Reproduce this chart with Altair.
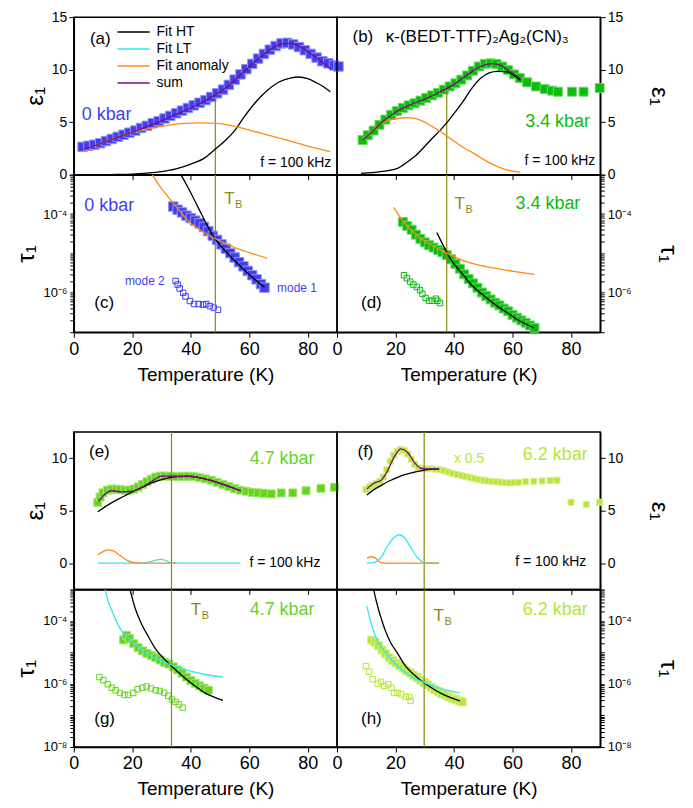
import altair as alt
import pandas as pd

FONT = "Liberation Sans"
W, H = 264, 158

# ---------------- colours ----------------
C0, C0E = "#3f3ff0", "#9494f7"      # 0 kbar
C34, C34E = "#0cbc0c", "#66d866"    # 3.4 kbar
C47, C47E = "#66d41e", "#a6e674"    # 4.7 kbar
C62, C62E = "#b6e63a", "#d6f08e"    # 6.2 kbar
OLIVE = "#8a8a10"
CURVE_NAMES = ["Fit HT", "Fit LT", "Fit anomaly", "sum"]
CURVE_COLORS = ["#000000", "#2ee8f4", "#ff8a14", "#7a0a7a"]

# ---------------- data: (a) eps, 0 kbar ----------------
a_T = [3, 5, 7, 9, 11, 13, 15, 17, 19, 21, 23, 25, 27, 29, 31, 33, 35, 37, 39, 41, 43, 45, 47, 49,
       51, 53, 55, 57, 59, 61, 63, 65, 67, 69, 71, 73, 75, 77, 79, 81, 83, 85, 87, 89, 90.5]
a_eps = [2.65, 2.75, 2.85, 3.0, 3.2, 3.4, 3.6, 3.8, 4.0, 4.2, 4.45, 4.65, 4.9, 5.1, 5.35, 5.6, 5.85,
         6.1, 6.35, 6.6, 6.85, 7.1, 7.4, 7.75, 8.1, 8.55, 9.05, 9.55, 10.05, 10.55, 11.05, 11.5,
         11.9, 12.25, 12.5, 12.55, 12.4, 12.15, 11.85, 11.5, 11.15, 10.8, 10.6, 10.4, 10.3]
a_sum_T = [3.4, 8, 13, 18, 23, 28, 33, 38, 43, 48, 53, 58, 63, 68, 71, 74, 78, 82, 85, 87.7]
a_sum = [2.4, 2.85, 3.35, 3.85, 4.35, 4.9, 5.5, 6.1, 6.75, 7.55, 8.5, 9.75, 11.0, 12.05, 12.45,
         12.5, 12.1, 11.3, 10.7, 10.1]
a_ht_T = [3, 10, 15, 20, 25, 30, 35, 40, 45, 48, 52, 55, 58, 62, 66, 70, 74, 77, 80, 83, 85.5, 87.7]
a_ht = [0, 0, 0.02, 0.06, 0.15, 0.3, 0.55, 1.0, 1.65, 2.35, 3.3, 4.2, 5.4, 6.85, 8.0, 8.8, 9.2,
        9.3, 9.15, 8.75, 8.35, 7.9]
a_an_T = [3.4, 9.5, 15, 21, 27, 32, 38, 43.6, 49, 55, 60, 66.4, 72, 77.7, 83, 87.7]
a_an = [2.34, 3.0, 3.55, 4.1, 4.45, 4.7, 4.88, 4.94, 4.88, 4.6, 4.25, 3.77, 3.35, 2.9, 2.5, 2.2]

# ---------------- (c) tau, 0 kbar ----------------
c_T = [34, 35.5, 37, 38.5, 40, 41.5, 43, 44.5, 46, 47.5, 49, 50.5, 52, 53.5, 55, 56.5, 58, 59.5,
       61, 62.5, 64, 65.2]
c_tau = [1.55e-4, 1.29e-4, 1.10e-4, 9.1e-5, 7.9e-5, 6.8e-5, 5.8e-5, 4.7e-5, 3.7e-5, 2.8e-5,
         2.2e-5, 1.7e-5, 1.32e-5, 1.02e-5, 7.9e-6, 6.0e-6, 4.7e-6, 3.6e-6, 2.8e-6, 2.2e-6,
         1.66e-6, 1.35e-6]
c2_T = [34.8, 35.5, 36.2, 37.4, 38.2, 39.7, 41.1, 42.7, 44.2, 45.3, 46.5, 47.8, 49.3]
c2_tau = [2.0e-6, 1.62e-6, 1.29e-6, 1.0e-6, 8.1e-7, 6.2e-7, 5.2e-7, 5.2e-7, 5.0e-7, 5.2e-7,
          4.6e-7, 4.2e-7, 3.7e-7]
c_ht_T = [36.6, 39, 42.5, 45, 48.2, 51, 55, 58, 61, 63, 65.2]
c_ht = [1.0e-3, 4.8e-4, 1.48e-4, 6.3e-5, 2.4e-5, 1.35e-5, 6.5e-6, 4.0e-6, 2.5e-6, 1.86e-6, 1.38e-6]
c_an_T = [26.8, 29, 32.3, 36, 39, 43, 48.2, 52, 55, 60, 66.1]
c_an = [1.0e-3, 5.6e-4, 2.7e-4, 1.26e-4, 6.8e-5, 4.0e-5, 2.4e-5, 1.78e-5, 1.41e-5, 1.05e-5, 7.6e-6]

# ---------------- (b) eps, 3.4 kbar ----------------
b_T = [8.75, 10.5, 12.5, 14.5, 16.5, 18.5, 20.5, 22.5, 24.5, 26.5, 28.5, 30.5, 32.5, 34.5, 36.5,
       38.5, 40.5, 42.5, 44.5, 46.5, 48.5, 50.5, 52.5, 54.5, 56.5, 58.5, 60.5, 62.5, 65, 68, 71,
       73.5, 75.5, 80.3, 84.3, 89.8]
b_eps = [3.3, 3.75, 4.2, 4.75, 5.25, 5.7, 6.05, 6.35, 6.6, 6.8, 7.05, 7.3, 7.55, 7.8, 8.1, 8.4,
         8.7, 9.05, 9.45, 9.9, 10.3, 10.55, 10.6, 10.55, 10.3, 9.95, 9.55, 9.2, 8.8, 8.4, 8.15,
         8.0, 7.9, 7.9, 7.9, 8.25]
b_sum_T = [8.75, 12, 15, 20, 25, 30, 35, 40, 45, 49, 53, 56, 59, 62.7]
b_sum = [3.3, 4.1, 4.9, 5.95, 6.65, 7.2, 7.85, 8.6, 9.6, 10.3, 10.57, 10.4, 9.85, 9.15]
b_ht_T = [8.2, 15, 20.7, 24, 26.4, 29, 32, 35, 37.7, 40.5, 43.4, 46, 49, 52, 54.8, 58.2, 60.5, 62.7]
b_ht = [0.13, 0.3, 0.6, 1.2, 1.7, 2.4, 3.3, 4.15, 5.0, 6.0, 7.1, 8.2, 9.15, 9.7, 9.84, 9.78, 9.45, 9.0]
b_an_T = [8.75, 12, 15, 18, 20.7, 23, 25.2, 27.5, 29.8, 32.5, 35.5, 38.5, 41.1, 44, 46.8, 49.5,
          52.5, 55.5, 58.2, 62.7]
b_an = [3.3, 4.2, 4.87, 5.2, 5.35, 5.42, 5.41, 5.3, 5.03, 4.6, 4.08, 3.5, 2.97, 2.45, 2.03, 1.55,
        1.08, 0.7, 0.44, 0.22]

# ---------------- (d) tau, 3.4 kbar ----------------
d_T = [22.5, 24, 25.5, 27, 28.5, 30, 31.5, 33, 34.5, 36, 37.5, 39, 40.5, 42, 43.5, 45, 46.5, 48,
       49.5, 51, 52.5, 54, 55.5, 57, 58.5, 60, 61.5, 63, 64.5, 66, 67.5]
d_tau = [6.3e-5, 5.0e-5, 4.0e-5, 3.0e-5, 2.34e-5, 1.91e-5, 1.62e-5, 1.41e-5, 1.23e-5, 1.07e-5,
         9.1e-6, 7.1e-6, 5.4e-6, 4.1e-6, 2.95e-6, 2.24e-6, 1.74e-6, 1.35e-6, 1.02e-6, 8.3e-7,
         6.8e-7, 5.6e-7, 4.8e-7, 4.0e-7, 3.4e-7, 2.75e-7, 2.34e-7, 2.0e-7, 1.74e-7, 1.48e-7, 1.29e-7]
d2_T = [22.9, 23.9, 25, 26.1, 27.3, 28.4, 29.2, 30.3, 31.5, 32.6, 33.8, 34.3, 35.2]
d2_tau = [2.8e-6, 2.34e-6, 1.91e-6, 1.62e-6, 1.41e-6, 1.17e-6, 9.5e-7, 7.4e-7, 6.3e-7, 6.3e-7,
          7.1e-7, 6.3e-7, 5.5e-7]
d_ht_T = [34.1, 36, 37.7, 40, 43.4, 46, 49, 52, 54.8, 58, 61.6, 64.5, 67.5]
d_ht = [3.4e-5, 1.78e-5, 1.0e-5, 5.4e-6, 2.7e-6, 1.58e-6, 1.0e-6, 6.6e-7, 4.6e-7, 3.2e-7, 2.1e-7,
        1.62e-7, 1.29e-7]
d_an_T = [19.3, 22.9, 27.5, 32, 37.7, 43.4, 49, 54.8, 61.6, 67.5]
d_an = [1.48e-4, 6.2e-5, 2.8e-5, 1.66e-5, 1.0e-5, 6.5e-6, 5.0e-6, 4.1e-6, 3.4e-6, 2.95e-6]

# ---------------- (e) eps, 4.7 kbar ----------------
e_T = [8.2, 9, 10, 11.5, 13, 14.5, 16, 17.5, 19, 20.5, 22, 23.5, 25, 26.5, 28, 29.5, 31, 33, 35,
       37, 39, 41, 43, 45, 47, 49, 51, 53, 55, 57, 59, 61, 63, 65, 67.5, 70.9, 74.9, 79.4, 84.5, 89.1]
e_eps = [5.8, 6.3, 6.7, 6.95, 7.05, 7.05, 7.0, 6.95, 6.95, 7.05, 7.25, 7.5, 7.75, 8.0, 8.2, 8.28,
         8.3, 8.28, 8.25, 8.25, 8.28, 8.25, 8.15, 8.03, 7.9, 7.7, 7.5, 7.3, 7.1, 6.95, 6.85, 6.75,
         6.7, 6.65, 6.6, 6.69, 6.69, 6.9, 7.13, 7.23]
e_sum_T = [8.4, 10.7, 13, 16.4, 19.8, 23.2, 26.6, 30, 33.4, 39.1, 44.8, 50.5, 57]
e_sum = [5.86, 6.59, 6.9, 6.8, 6.85, 7.23, 7.77, 8.3, 8.28, 8.28, 8.03, 7.55, 6.9]
e_ht_T = [8.2, 12, 15.2, 18, 20.9, 24, 26.6, 30, 33.4, 36, 39.1, 44.8, 50.5, 57]
e_ht = [4.9, 5.6, 6.1, 6.5, 6.9, 7.3, 7.64, 7.95, 8.18, 8.25, 8.28, 8.03, 7.55, 6.9]
e_an_T = [8.2, 10, 11.6, 13.5, 15.2, 17, 18.6, 20.9, 25, 30, 35.1]
e_an = [0.8, 1.1, 1.27, 1.18, 0.86, 0.5, 0.22, 0.03, 0, 0, 0]
e_lt_T = [8.2, 15, 20, 24.3, 26, 28, 29.8, 31.5, 33.4, 40, 50, 57]
e_lt = [0, 0, 0, 0.02, 0.12, 0.3, 0.37, 0.25, 0.03, 0, 0, 0]

# ---------------- (f) eps, 6.2 kbar ----------------
f_T = [9.9, 11, 12.2, 13.4, 14.6, 15.8, 17, 18.2, 19.4, 20.6, 21.8, 23, 24.2, 25.4, 26.6, 27.8, 29,
       30.5, 32, 33.5, 35, 36.5, 38, 39.5, 41, 42.5, 44, 45.5, 47, 48.5, 50, 51.5, 53, 54.5, 56,
       57.5, 59, 60.5, 62, 64.5, 67.3, 70.1, 72.9, 75.2, 80, 85.2, 89.8]
f_eps = [7.0, 7.25, 7.45, 7.6, 7.8, 8.2, 8.9, 9.7, 10.3, 10.65, 10.82, 10.75, 10.4, 9.9, 9.4, 9.1,
         9.0, 8.98, 8.98, 8.95, 8.9, 8.8, 8.68, 8.55, 8.45, 8.35, 8.25, 8.15, 8.05, 7.97, 7.9, 7.83,
         7.78, 7.75, 7.72, 7.68, 7.64, 7.66, 7.7, 7.77, 7.8, 7.83, 7.87, 7.9, 5.8, 5.6, 5.8]
f_sum_T = [10.2, 12.7, 15, 17.3, 19.5, 21.8, 24.1, 26.4, 28.6, 30.9, 34.9]
f_sum = [7.07, 7.64, 7.87, 8.82, 10.1, 10.89, 10.57, 9.62, 9.04, 8.98, 8.98]
f_ht_T = [10.2, 12.5, 15, 18, 20.7, 23.5, 26.4, 28.5, 30.9, 33, 34.9]
f_ht = [6.5, 6.98, 7.39, 7.85, 8.18, 8.45, 8.66, 8.8, 8.92, 8.96, 8.98]
f_lt_T = [10.2, 12.7, 15, 17.3, 19.5, 21.3, 23, 25.2, 27.5, 29.8, 34.9]
f_lt = [0, 0.06, 0.54, 1.66, 2.45, 2.71, 2.45, 1.5, 0.54, 0.06, 0]
f_an_T = [10.2, 11.8, 13.3, 15, 16.7, 34.9]
f_an = [0.48, 0.64, 0.45, 0.06, 0, 0]

# ---------------- (g) tau, 4.7 kbar ----------------
g_T = [17, 18, 19, 20.5, 22, 23.5, 25, 26.5, 28, 29.5, 31, 32.5, 34, 35.5, 37, 38.5, 40, 41.5, 43,
       44.5, 46]
g_tau = [2.5e-5, 3.5e-5, 2.8e-5, 1.9e-5, 1.41e-5, 1.12e-5, 9.3e-6, 7.9e-6, 6.8e-6, 5.8e-6, 4.9e-6,
         4.3e-6, 3.5e-6, 2.8e-6, 2.2e-6, 1.66e-6, 1.29e-6, 1.05e-6, 8.7e-7, 7.4e-7, 6.3e-7]
g2_T = [8.75, 10.1, 11.6, 13, 14.3, 15.8, 17.3, 18.6, 20.3, 21.8, 23.4, 24.9, 26.4, 28, 29.4, 30.9,
        32.3, 33.6, 34.8, 35.9, 37.2]
g2_tau = [1.66e-6, 1.32e-6, 9.8e-7, 7.6e-7, 6.3e-7, 5.2e-7, 4.5e-7, 4.5e-7, 5.2e-7, 6.8e-7, 7.6e-7,
          8.3e-7, 7.2e-7, 6.3e-7, 6.0e-7, 5.2e-7, 4.2e-7, 3.2e-7, 2.7e-7, 2.24e-7, 1.78e-7]
g_ht_T = [19.2, 21, 23.2, 25.5, 27.7, 30.5, 33.4, 36, 39.1, 42, 44.8, 48, 51]
g_ht = [1.0e-3, 2.5e-4, 7.9e-5, 3.2e-5, 1.41e-5, 6.8e-6, 3.7e-6, 2.24e-6, 1.26e-6, 7.9e-7, 5.2e-7,
        3.8e-7, 3.0e-7]
g_lt_T = [10.7, 11.8, 13, 14.5, 16.4, 19.8, 24.3, 30, 33.4, 39.1, 44.8, 51]
g_lt = [1.0e-3, 4.2e-4, 2.1e-4, 1.0e-4, 4.8e-5, 2.34e-5, 1.0e-5, 5.4e-6, 4.0e-6, 2.7e-6, 2.0e-6,
        1.66e-6]

# ---------------- (h) tau, 6.2 kbar ----------------
h_T = [11.8, 13, 14.2, 15.4, 16.6, 17.8, 19, 20.2, 21.4, 22.6, 23.8, 25, 26.2, 27.4, 28.6, 29.8, 31,
       32.2, 33.4, 34.6, 35.8, 37, 38.2, 39.4, 40.6, 41.8, 42.8]
h_tau = [2.45e-5, 2.1e-5, 1.66e-5, 1.2e-5, 9.1e-6, 6.9e-6, 5.5e-6, 4.6e-6, 3.8e-6, 3.2e-6, 2.6e-6,
         2.24e-6, 1.9e-6, 1.58e-6, 1.32e-6, 1.1e-6, 9.3e-7, 7.8e-7, 6.6e-7, 5.8e-7, 5.0e-7, 4.5e-7,
         3.9e-7, 3.5e-7, 3.2e-7, 2.9e-7, 2.7e-7]
h2_T = [9.9, 11, 12.2, 13.9, 15, 16.1, 17.5, 18.6, 19.5, 20.7, 22, 23.5, 24.7, 25.2]
h2_tau = [3.7e-6, 2.45e-6, 1.41e-6, 1.02e-6, 1.17e-6, 8.7e-7, 9.8e-7, 7.6e-7, 5.2e-7, 5.2e-7,
          4.7e-7, 3.9e-7, 3.9e-7, 2.9e-7]
h_ht_T = [12.5, 13.5, 15, 16.5, 18.4, 20.5, 23, 27.5, 32, 36.6, 42]
h_ht = [1.0e-3, 4.0e-4, 1.29e-4, 5.0e-5, 2.0e-5, 1.0e-5, 4.2e-6, 1.58e-6, 7.9e-7, 4.5e-7, 2.9e-7]
h_lt_T = [10.2, 11.3, 12.7, 14, 16.1, 20.7, 25.2, 29.8, 35.5, 42]
h_lt = [3.0e-4, 1.12e-4, 4.3e-5, 2.24e-5, 1.12e-5, 3.7e-6, 1.78e-6, 1.1e-6, 7.1e-7, 5.2e-7]

# T_B temperatures (a/c, b/d, e/g, f/h)
TB = [48.4, 37.5, 33.4, 29.8]

X_TICKS = [0, 20, 40, 60, 80]

# ---------------- encodings ----------------
XSCALE = alt.Scale(domain=[0, 90], nice=False, zero=False)
x_top = alt.X("T:Q", scale=XSCALE,
              axis=alt.Axis(values=X_TICKS, labels=False, title=None, tickSize=5))
x_bot = alt.X("T:Q", scale=XSCALE,
              axis=alt.Axis(values=X_TICKS, title="Temperature (K)", labelFontSize=18,
                            titleFontSize=19, titleFontWeight="normal", labelFlush=False,
                            labelPadding=3, titlePadding=7, tickSize=5))


def title_pad(orient):
    return 4 if orient == "left" else 24


def y_eps(domain, values, orient):
    return alt.Y("v:Q", scale=alt.Scale(domain=domain, nice=False, zero=False),
                 axis=alt.Axis(orient=orient, values=values, title="ε₁", labelFontSize=14,
                               titleFontSize=24, titleFontWeight="normal", tickSize=5,
                               labelPadding=2, titlePadding=title_pad(orient)))


LOG_EXPR = ("datum.value > 9e-5 && datum.value < 1.1e-4 ? '10⁻⁴' : "
            "datum.value > 9e-7 && datum.value < 1.1e-6 ? '10⁻⁶' : "
            "datum.value > 9e-9 && datum.value < 1.1e-8 ? '10⁻⁸' : ''")


def y_tau(lo_exp, orient):
    vals = []
    for k in range(lo_exp, -3):
        for m in range(1, 10):
            vals.append(m * 10.0 ** k)
    vals.append(1e-3)
    return alt.Y("v:Q", scale=alt.Scale(type="log", domain=[10.0 ** lo_exp, 1e-3], nice=False),
                 axis=alt.Axis(orient=orient, values=vals, labelExpr=LOG_EXPR, title="τ₁",
                               labelFontSize=13, titleFontSize=24, titleFontWeight="normal",
                               tickSize=4, labelPadding=3, titlePadding=title_pad(orient),
                               labelOverlap=False))


COLOR = alt.Color("curve:N", scale=alt.Scale(domain=CURVE_NAMES, range=CURVE_COLORS),
                  legend=alt.Legend(title=None, orient="none", legendX=50, legendY=5,
                                    symbolType="M-1.83,0H1.83", symbolSize=310,
                                    symbolStrokeWidth=1.5, labelFontSize=14, labelFont=FONT,
                                    rowPadding=0, labelOffset=13, padding=0))


# ---------------- layer helpers ----------------
def filled(T, v, fill, edge, size, xe, ye):
    return alt.Chart(pd.DataFrame({"T": T, "v": v})).mark_square(
        size=size, fill=fill, stroke=edge, strokeWidth=1, opacity=1).encode(x=xe, y=ye)


def hollow(T, v, color, xe, ye):
    return alt.Chart(pd.DataFrame({"T": T, "v": v})).mark_square(
        size=30, filled=False, stroke=color, strokeWidth=1, opacity=1).encode(x=xe, y=ye)


def curves(series, xe, ye):
    rows = []
    for name, T, v in series:
        for t, y in zip(T, v):
            rows.append({"T": t, "v": y, "curve": name})
    return alt.Chart(pd.DataFrame(rows)).mark_line(
        interpolate="monotone", strokeWidth=1.3, clip=True).encode(x=xe, y=ye, color=COLOR)


def tb_rule(t, xe, ye, top=None):
    if top is None:
        return alt.Chart(pd.DataFrame({"T": [t]})).mark_rule(
            color=OLIVE, strokeWidth=1.2).encode(x=xe)
    return alt.Chart(pd.DataFrame({"T": [t], "v": [0.0], "v2": [top]})).mark_rule(
        color=OLIVE, strokeWidth=1.2).encode(x=xe, y=ye, y2="v2:Q")


def txt(t, v, s, xe, ye, color="black", size=16, align="left", dx=0, dy=0):
    return alt.Chart(pd.DataFrame({"T": [t], "v": [v], "s": [s]})).mark_text(
        align=align, baseline="middle", font=FONT, fontSize=size, color=color,
        dx=dx, dy=dy).encode(x=xe, y=ye, text="s:N")


def tb_text(t, v, xe, ye):
    return [txt(t, v, "T", xe, ye, color=OLIVE, size=17),
            txt(t, v, "B", xe, ye, color=OLIVE, size=11, dx=11, dy=6)]


def panel(layers):
    return alt.layer(*layers).properties(width=W, height=H)


# ---------------- panels ----------------
ya = y_eps([0, 15], [0, 5, 10, 15], "left")
pa = panel([
    filled(a_T, a_eps, C0, C0E, 90, x_top, ya),
    tb_rule(TB[0], x_top, ya, top=7.4),
    curves([("Fit HT", a_ht_T, a_ht), ("Fit anomaly", a_an_T, a_an), ("sum", a_sum_T, a_sum)],
           x_top, ya),
    txt(5.5, 12.95, "(a)", x_top, ya, size=17),
    txt(2.7, 5.7, "0 kbar", x_top, ya, color=C0, size=18),
    txt(88, 1.15, "f = 100 kHz", x_top, ya, size=14, align="right"),
])

yb = y_eps([0, 15], [0, 5, 10, 15], "right")
pb = panel([
    filled(b_T, b_eps, C34, C34E, 80, x_top, yb),
    tb_rule(TB[1], x_top, yb, top=8.0),
    curves([("Fit HT", b_ht_T, b_ht), ("Fit anomaly", b_an_T, b_an), ("sum", b_sum_T, b_sum)],
           x_top, yb),
    txt(5.3, 13.1, "(b)", x_top, yb, size=17),
    txt(16.7, 13.1, "κ-(BEDT-TTF)₂Ag₂(CN)₃", x_top, yb, size=17),
    txt(86.5, 5.05, "3.4 kbar", x_top, yb, color=C34, size=18, align="right"),
    txt(88.3, 1.3, "f = 100 kHz", x_top, yb, size=14, align="right"),
])

yc = y_tau(-7, "left")
pc = panel([
    filled(c_T, c_tau, C0, C0E, 90, x_bot, yc),
    hollow(c2_T, c2_tau, C0, x_bot, yc),
    tb_rule(TB[0], x_bot, yc),
    curves([("Fit HT", c_ht_T, c_ht), ("Fit anomaly", c_an_T, c_an)], x_bot, yc),
    txt(3.6, 1.6e-4, "0 kbar", x_bot, yc, color=C0, size=18),
    txt(7, 5.5e-7, "(c)", x_bot, yc, size=17),
    txt(31.1, 2.0e-6, "mode 2", x_bot, yc, color=C0, size=12, align="right"),
    txt(69.5, 1.3e-6, "mode 1", x_bot, yc, color=C0, size=12),
    *tb_text(51.4, 2.4e-4, x_bot, yc),
])

yd = y_tau(-7, "right")
pd_ = panel([
    filled(d_T, d_tau, C34, C34E, 80, x_bot, yd),
    hollow(d2_T, d2_tau, C34, x_bot, yd),
    tb_rule(TB[1], x_bot, yd),
    curves([("Fit HT", d_ht_T, d_ht), ("Fit anomaly", d_an_T, d_an)], x_bot, yd),
    txt(83.2, 1.8e-4, "3.4 kbar", x_bot, yd, color=C34, size=18, align="right"),
    txt(8.2, 5.5e-7, "(d)", x_bot, yd, size=17),
    *tb_text(40.2, 1.8e-4, x_bot, yd),
])

ye = y_eps([-2.5, 12.5], [0, 5, 10], "left")
pe = panel([
    filled(e_T, e_eps, C47, C47E, 64, x_top, ye),
    tb_rule(TB[2], x_top, ye),
    curves([("Fit HT", e_ht_T, e_ht), ("Fit LT", e_lt_T, e_lt), ("Fit anomaly", e_an_T, e_an),
            ("sum", e_sum_T, e_sum)], x_top, ye),
    txt(5.2, 10.6, "(e)", x_top, ye, size=17),
    txt(82.3, 9.95, "4.7 kbar", x_top, ye, color=C47, size=18, align="right"),
    txt(84.3, 0.06, "f = 100 kHz", x_top, ye, size=14, align="right"),
])

yf = y_eps([-2.5, 12.5], [0, 5, 10], "right")
pf = panel([
    filled(f_T, f_eps, C62, C62E, 36, x_top, yf),
    tb_rule(TB[3], x_top, yf),
    curves([("Fit HT", f_ht_T, f_ht), ("Fit LT", f_lt_T, f_lt), ("Fit anomaly", f_an_T, f_an),
            ("sum", f_sum_T, f_sum)], x_top, yf),
    txt(7, 10.6, "(f)", x_top, yf, size=17),
    txt(85.7, 10.3, "6.2 kbar", x_top, yf, color=C62, size=18, align="right"),
    txt(40, 9.95, "x 0.5", x_top, yf, color=C62, size=14),
    txt(85.2, 0.13, "f = 100 kHz", x_top, yf, size=14, align="right"),
])

yg = y_tau(-8, "left")
pg = panel([
    filled(g_T, g_tau, C47, C47E, 64, x_bot, yg),
    hollow(g2_T, g2_tau, C47, x_bot, yg),
    tb_rule(TB[2], x_bot, yg),
    curves([("Fit HT", g_ht_T, g_ht), ("Fit LT", g_lt_T, g_lt)], x_bot, yg),
    txt(82.3, 2.3e-4, "4.7 kbar", x_bot, yg, color=C47, size=18, align="right"),
    txt(7, 7.6e-8, "(g)", x_bot, yg, size=17),
    *tb_text(40, 2.3e-4, x_bot, yg),
])

yh = y_tau(-8, "right")
ph = panel([
    filled(h_T, h_tau, C62, C62E, 64, x_bot, yh),
    hollow(h2_T, h2_tau, C62, x_bot, yh),
    tb_rule(TB[3], x_bot, yh),
    curves([("Fit HT", h_ht_T, h_ht), ("Fit LT", h_lt_T, h_lt)], x_bot, yh),
    txt(85.7, 2.3e-4, "6.2 kbar", x_bot, yh, color=C62, size=18, align="right"),
    txt(8.2, 7.6e-8, "(h)", x_bot, yh, size=17),
    *tb_text(33, 1.45e-4, x_bot, yh),
])


def spacer():
    return alt.Chart(pd.DataFrame({"T": [0], "v": [0]})).mark_point(opacity=0).encode(
        x=alt.X("T:Q", axis=None), y=alt.Y("v:Q", axis=None)
    ).properties(width=W, height=100, view=alt.ViewBackground(strokeOpacity=0))


chart = alt.concat(pa, pb, pc, pd_, spacer(), spacer(), pe, pf, pg, ph,
                   columns=2, spacing=0, bounds="flush").properties(
    padding={"left": 6, "top": 0, "right": 5, "bottom": 2}
).configure_view(
    stroke="black", strokeWidth=1.5
).configure_axis(
    labelFont=FONT, titleFont=FONT, domainColor="black", domainWidth=1.5, tickColor="black",
    tickWidth=1, labelColor="black", titleColor="black", grid=False
).configure_legend(labelColor="black")

chart.save("out.html", embed_options={"renderer": "svg", "actions": False})
